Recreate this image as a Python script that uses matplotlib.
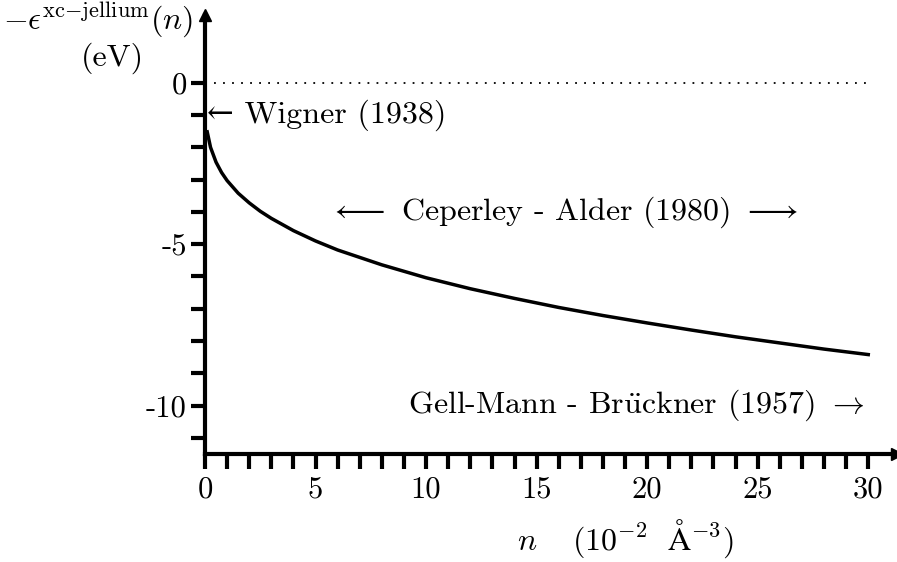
import matplotlib
matplotlib.use("Agg")
import matplotlib.pyplot as plt

plt.rcParams['mathtext.fontset'] = 'cm'
plt.rcParams['font.family'] = ['cmr10', 'DejaVu Serif']
plt.rcParams['axes.unicode_minus'] = False

# density n (10^-2 Å^-3) and -eps_xc (eV)
n_vals = [0.1, 0.25, 0.5, 0.75, 1.0, 1.5, 2.0, 2.5, 3.0, 4.0, 5.0, 6.0,
          8.0, 10.0, 12.0, 14.0, 16.0, 18.0, 20.0, 22.0, 24.0, 26.0, 28.0, 30.0]
eps_vals = [-1.52, -2.00, -2.46, -2.78, -3.03, -3.42, -3.72, -3.98, -4.20,
            -4.58, -4.90, -5.18, -5.64, -6.04, -6.38, -6.68, -6.96, -7.21, -7.44,
            -7.66, -7.87, -8.06, -8.25, -8.42]
x_ticks = [0, 5, 10, 15, 20, 25, 30]
y_ticks = [0, -5, -10]

W, H = 897, 562
FS = 23
fig = plt.figure(figsize=(W / 100, H / 100), dpi=100)
ax = fig.add_axes([205 / W, (H - 454) / H, (897 - 205) / W, (454 - 15) / H])
ax.set_xlim(0, 31.3)
ax.set_ylim(-11.5, 2.1)

for s in ['top', 'right']:
    ax.spines[s].set_visible(False)
for s in ['left', 'bottom']:
    ax.spines[s].set_linewidth(3)

ax.set_xticks(x_ticks)
ax.set_xticklabels([str(t) for t in x_ticks])
ax.set_xticks(range(0, 31), minor=True)
ax.set_yticks(y_ticks)
ax.set_yticklabels([str(t) for t in y_ticks])
ax.set_yticks(range(0, -12, -1), minor=True)
ax.tick_params(which='both', direction='out', width=3, length=11, labelsize=22, pad=5)
ax.tick_params(axis='y', which='both', length=10, pad=3)

# arrows at axis ends
ax.plot([0], [2.1], marker='^', color='black', markersize=8, clip_on=False, zorder=5)
ax.plot([31.3], [-11.5], marker='>', color='black', markersize=8, clip_on=False, zorder=5)

ax.plot([0, 30], [0, 0], linestyle=(0, (1, 4)), color='black', linewidth=1.3)
ax.plot(n_vals, eps_vals, color='black', linewidth=2.5, clip_on=False)

ax.text(0.1, -1.0, '\u2190 Wigner (1938)', fontsize=FS, va='center', ha='left')
ax.text(16.2, -4.0, r'$\longleftarrow$ Ceperley - Alder (1980) $\longrightarrow$',
        fontsize=FS, va='center', ha='center')
ax.text(29.8, -10.0, r'Gell-Mann - Br$\ddot{\mathrm{u}}$ckner (1957) $\rightarrow$',
        fontsize=FS, va='center', ha='right')

fig.text(98 / W, 1 - 20 / H, r'$-\epsilon^{\rm xc{-}jellium}(n)$', fontsize=FS,
         ha='center', va='center')
fig.text(112 / W, 1 - 58 / H, '(eV)', fontsize=FS, ha='center', va='center')
fig.text(625 / W, 1 - 539 / H, r'$n\quad\;(10^{-2}\ \ \mathrm{\AA}^{-3})$', fontsize=FS,
         ha='center', va='center')

fig.savefig('out.png', dpi=100)
